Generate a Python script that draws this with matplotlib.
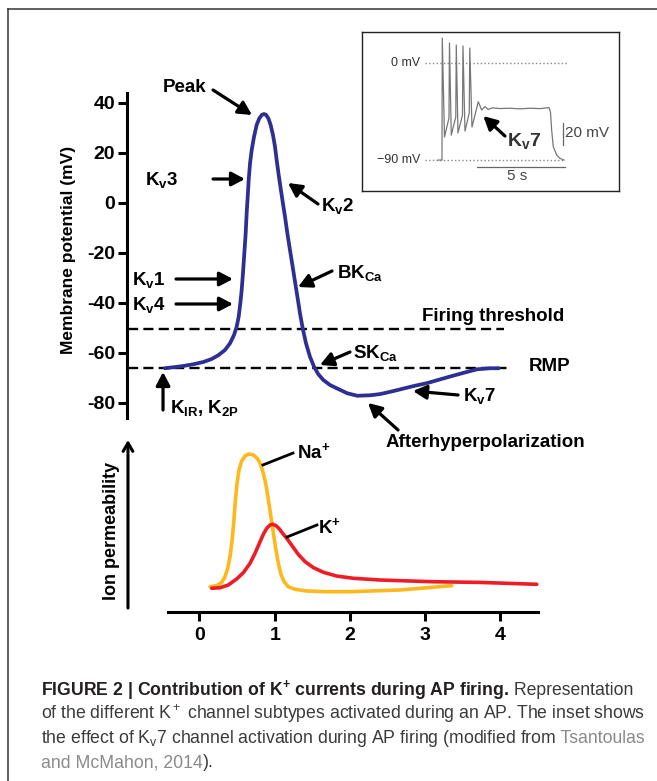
import matplotlib
matplotlib.use("Agg")
import matplotlib.pyplot as plt
from matplotlib.lines import Line2D

plt.rcParams['font.family'] = ['Liberation Sans', 'DejaVu Sans']
plt.rcParams['mathtext.fontset'] = 'custom'
plt.rcParams['mathtext.rm'] = 'Liberation Sans'
plt.rcParams['mathtext.bf'] = 'Liberation Sans:bold'
plt.rcParams['mathtext.it'] = 'Liberation Sans:italic'
plt.rcParams['mathtext.sf'] = 'Liberation Sans'

# ---------------- data ----------------
# action potential (time in ms, membrane potential in mV)
ap_time = [-0.459, -0.348, -0.215, -0.082, 0.051, 0.162, 0.250, 0.339, 0.406, 0.459,
           0.494, 0.521, 0.543, 0.561, 0.578, 0.596, 0.614, 0.627, 0.641, 0.654,
           0.672, 0.694, 0.725, 0.760, 0.796, 0.831, 0.858, 0.884, 0.915, 0.946,
           0.977, 1.004, 1.026, 1.053, 1.079, 1.106, 1.137, 1.168, 1.203, 1.239,
           1.270, 1.305, 1.336, 1.372, 1.416, 1.469, 1.523, 1.580, 1.647, 1.735,
           1.824, 1.964, 2.097, 2.274, 2.407, 2.540, 2.850, 3.032, 3.205, 3.358,
           3.515, 3.693, 3.870, 3.980]
ap_mv = [-66.1, -65.7, -65.2, -64.5, -63.6, -62.4, -60.9, -58.8, -56.1, -52.8,
         -49.5, -45.5, -40.1, -34.8, -28.1, -20.1, -12.1, -4.1, 2.5, 9.2,
         15.9, 21.2, 26.5, 31.2, 33.9, 35.3, 35.6, 35.3, 33.9, 31.2,
         27.2, 22.5, 17.2, 11.2, 5.9, 0.5, -5.5, -12.1, -18.8, -25.5,
         -31.5, -38.1, -44.1, -50.1, -56.1, -61.5, -65.5, -68.5, -70.8, -72.8,
         -74.1, -76.1, -77.1, -76.9, -76.4, -75.5, -73.2, -72.0, -70.5, -69.2,
         -67.9, -66.5, -66.1, -66.1]
threshold_mv = -50.4
rmp_mv = -66.0
yticks_mv = [40, 20, 0, -20, -40, -60, -80]

# ion permeability (arbitrary units)
na_time = [0.140, 0.228, 0.295, 0.339, 0.375, 0.406, 0.432, 0.454, 0.476, 0.499,
           0.525, 0.561, 0.605, 0.658, 0.716, 0.769, 0.813, 0.849, 0.880, 0.906,
           0.933, 0.960, 0.986, 1.013, 1.044, 1.079, 1.124, 1.181, 1.270, 1.425,
           1.691, 2.001, 2.400, 2.666, 3.105, 3.354]
na_perm = [14.7, 15.3, 17.2, 20.5, 25.4, 32.2, 40.9, 51.6, 64.1, 74.8,
           82.6, 87.8, 90.7, 91.9, 91.3, 89.3, 85.9, 80.6, 74.8, 68.0,
           60.3, 52.5, 44.8, 37.0, 29.3, 22.5, 17.6, 14.7, 13.2, 12.2,
           11.8, 11.8, 12.4, 12.8, 14.4, 15.3]
k_time = [0.162, 0.273, 0.383, 0.494, 0.583, 0.672, 0.738, 0.796, 0.849, 0.893,
          0.938, 0.973, 1.017, 1.062, 1.115, 1.168, 1.239, 1.314, 1.403, 1.514,
          1.647, 1.824, 2.046, 2.400, 3.105, 3.730, 4.484]
k_perm = [13.8, 14.1, 15.7, 19.2, 22.9, 28.3, 34.1, 39.9, 45.2, 48.6,
          50.6, 51.0, 50.2, 48.3, 45.2, 42.4, 38.0, 33.5, 29.3, 25.8,
          23.1, 20.9, 19.6, 18.6, 17.6, 17.2, 16.1]
xticks_ms = [0, 1, 2, 3, 4]

# inset trace (time in s, mV)
inset_time = [-0.227, 0.0, 0.017, 0.142, 0.398, 0.426, 0.528, 0.784, 0.813, 0.909,
              1.165, 1.193, 1.307, 1.551, 1.580, 1.705, 1.903, 2.063, 2.256, 2.443,
              2.631, 2.841, 3.295, 3.864, 4.432, 5.000, 5.568, 6.080, 6.165, 6.233,
              6.324, 6.517, 6.705, 6.932]
inset_mv = [-90.0, -90.0, 23.2, -68.6, -51.0, 18.6, -66.8, -50.1, 16.7, -64.9,
            -48.2, 15.8, -63.1, -46.4, 13.9, -59.4, -46.4, -35.9, -43.6, -40.4,
            -43.1, -41.6, -42.2, -41.9, -42.5, -41.9, -42.3, -41.3, -45.5, -62.2,
            -77.6, -85.3, -88.4, -90.0]

# ---------------- figure ----------------
W, H = 657, 781
fig = plt.figure(figsize=(W / 100, H / 100), dpi=100)


def px_rect(x0, y0, x1, y1):
    return [x0 / W, 1 - y1 / H, (x1 - x0) / W, (y1 - y0) / H]


XLIM = (-0.964, 4.594)
LAB = 13.5
TICK = 14
AP_COLOR = '#2D2F92'


def arrow(a, tail, head, lw=2.3, style='-|>,head_length=0.8,head_width=0.42'):
    a.annotate('', xy=head, xytext=tail, annotation_clip=False,
               arrowprops=dict(arrowstyle=style, lw=lw, color='black',
                               shrinkA=0, shrinkB=0))


# ---- main AP axes ----
ax = fig.add_axes(px_rect(127, 93, 545, 418))
ax.set_xlim(*XLIM)
ax.set_ylim(-86, 44)
for s in ['top', 'right', 'bottom']:
    ax.spines[s].set_visible(False)
ax.spines['left'].set_linewidth(2.2)
ax.set_xticks([])
ax.set_yticks(yticks_mv)
ax.set_yticklabels([str(v) for v in yticks_mv], fontsize=TICK, fontweight='bold')
ax.tick_params(axis='y', width=2.2, length=6.5, pad=2)
ax.patch.set_alpha(0)

ax.plot([-0.951, 4.049], [threshold_mv, threshold_mv], color='black', lw=1.7,
        ls=(0, (4.3, 2.2)), clip_on=False)
ax.plot([-0.951, 4.10], [rmp_mv, rmp_mv], color='black', lw=1.7,
        ls=(0, (4.3, 2.2)), clip_on=False)
ax.plot(ap_time, ap_mv, color=AP_COLOR, lw=2.7, solid_capstyle='round',
        solid_joinstyle='round', clip_on=False)

fig.text(68 / W, 1 - 250 / H, 'Membrane potential (mV)', rotation=90,
         ha='center', va='center', fontsize=12.5, fontweight='bold')

tk = dict(fontsize=LAB, fontweight='bold', va='center')
ax.text(-0.193, 46.0, 'Peak', ha='center', **tk)
arrow(ax, (0.180, 45.2), (0.698, 35.2))
ax.text(-0.499, 9.2, r'K$_\mathbf{v}$3', ha='center', **tk)
arrow(ax, (0.180, 9.6), (0.605, 9.6))
ax.text(1.62, -1.2, r'K$_\mathbf{v}$2', ha='left', **tk)
arrow(ax, (1.576, -0.4), (1.177, 8.0))
ax.text(-0.670, -30.8, r'K$_\mathbf{v}$1', ha='center', **tk)
arrow(ax, (-0.312, -30.4), (0.445, -30.4))
ax.text(-0.670, -40.8, r'K$_\mathbf{v}$4', ha='center', **tk)
arrow(ax, (-0.312, -40.4), (0.445, -40.4))
ax.text(1.828, -28.0, r'BK$_\mathbf{Ca}$', ha='left', **tk)
arrow(ax, (1.762, -27.2), (1.310, -33.6))
ax.text(2.041, -60.0, r'SK$_\mathbf{Ca}$', ha='left', **tk)
arrow(ax, (2.001, -59.6), (1.602, -64.8))
ax.text(2.959, -45.6, 'Firing threshold', ha='left', **tk)
ax.text(4.382, -65.6, 'RMP', ha='left', **tk)
ax.text(3.504, -77.2, r'K$_\mathbf{v}$7', ha='left', **tk)
arrow(ax, (3.438, -76.8), (2.839, -75.2))
ax.text(2.467, -96.0, 'Afterhyperpolarization', ha='left', **tk)
arrow(ax, (2.640, -90.8), (2.241, -80.0))
ax.text(-0.392, -82.0, r'K$_\mathbf{IR}$, K$_\mathbf{2P}$', ha='left', **tk)
arrow(ax, (-0.485, -82.8), (-0.485, -67.6))

# ---- ion permeability axes ----
axb = fig.add_axes(px_rect(127, 440, 545, 612))
axb.set_xlim(*XLIM)
axb.set_ylim(0, 100)
for s in ['top', 'right', 'left']:
    axb.spines[s].set_visible(False)
axb.spines['bottom'].set_linewidth(2.2)
axb.spines['bottom'].set_bounds(-0.419, 4.501)
axb.set_yticks([])
axb.set_xticks(xticks_ms)
axb.set_xticklabels([str(v) for v in xticks_ms], fontsize=TICK, fontweight='bold')
axb.tick_params(axis='x', width=2.2, length=6.5, pad=4)
axb.patch.set_alpha(0)

axb.plot(na_time, na_perm, color='#FFB81C', lw=2.6, solid_capstyle='round',
         solid_joinstyle='round')
axb.plot(k_time, k_perm, color='#EE1C25', lw=2.6, solid_capstyle='round',
         solid_joinstyle='round')
arrow(axb, (-0.951, 2.3), (-0.951, 100.0), lw=2.2,
      style='->,head_length=0.6,head_width=0.35')
axb.text(1.297, 93.0, r'Na$^\mathbf{+}$', ha='left', **tk)
axb.plot([0.844, 1.243], [85.5, 92.4], color='black', lw=2.0)
axb.text(1.576, 49.4, r'K$^\mathbf{+}$', ha='left', **tk)
axb.plot([1.164, 1.562], [43.6, 50.6], color='black', lw=2.0)

fig.text(112 / W, 1 - 531 / H, 'Ion permeability', rotation=90,
         ha='center', va='center', fontsize=13, fontweight='bold')

# ---- inset ----
axi = fig.add_axes(px_rect(362, 32, 619, 191))
axi.set_xlim(-4.545, 10.06)
axi.set_ylim(-118.7, 28.8)
axi.set_xticks([])
axi.set_yticks([])
for s in axi.spines.values():
    s.set_linewidth(1.0)
    s.set_color('#222222')
axi.plot([-0.966, 7.10], [0, 0], ls=':', color='#888888', lw=1.0)
axi.plot([-0.966, 6.99], [-90, -90], ls=':', color='#888888', lw=1.0)
axi.plot(inset_time, inset_mv, color='#777777', lw=0.9)
axi.text(-1.25, 0, '0 mV', ha='right', va='center', fontsize=9, color='#333333')
axi.text(-1.25, -90, '\u221290 mV', ha='right', va='center', fontsize=9, color='#333333')
axi.plot([1.989, 6.989], [-96.5, -96.5], color='#666666', lw=0.9)
axi.text(4.29, -104.5, '5 s', ha='center', va='center', fontsize=11, color='#444444')
axi.plot([6.875, 6.875], [-55.7, -76.1], color='#666666', lw=0.9)
axi.text(6.99, -65, '20 mV', ha='left', va='center', fontsize=11, color='#444444')
axi.text(3.69, -72.0, r'K$_\mathbf{v}$7', ha='left', va='center', fontsize=14,
         fontweight='bold', color='#333333')
arrow(axi, (3.58, -67.7), (2.35, -49.2), lw=2.3)

# ---- outer frame ----
fig.add_artist(Line2D([8 / W, 8 / W], [1 - 9 / H, 0], transform=fig.transFigure,
                      color='#333333', lw=1.1))
fig.add_artist(Line2D([8 / W, 1], [1 - 9 / H, 1 - 9 / H], transform=fig.transFigure,
                      color='#333333', lw=1.1))

# ---- caption ----
CAP = 12.7
DARK = '#231F20'
REG = '#3A3A3A'
LINK = '#8A8A8A'
caption_lines = [
    (695, [("FIGURE 2 | Contribution of K$^\\mathbf{+}$ currents during AP firing.", 'bold', DARK),
           (" Representation", 'normal', REG)]),
    (719, [("of the different K$^+$ channel subtypes activated during an AP. The inset shows", 'normal', REG)]),
    (743, [("the effect of K$_\\mathrm{v}$7 channel activation during AP firing (modified from", 'normal', REG),
           (" Tsantoulas", 'normal', LINK)]),
    (767, [("and McMahon, 2014", 'normal', LINK), (").", 'normal', REG)]),
]
renderer = fig.canvas.get_renderer()
for yb, pieces in caption_lines:
    x = 41.0
    for txt, wt, col in pieces:
        t = fig.text(x / W, 1 - yb / H, txt, fontsize=CAP, fontweight=wt, color=col,
                     ha='left', va='baseline')
        x += t.get_window_extent(renderer).width

fig.savefig('out.png', dpi=100)
